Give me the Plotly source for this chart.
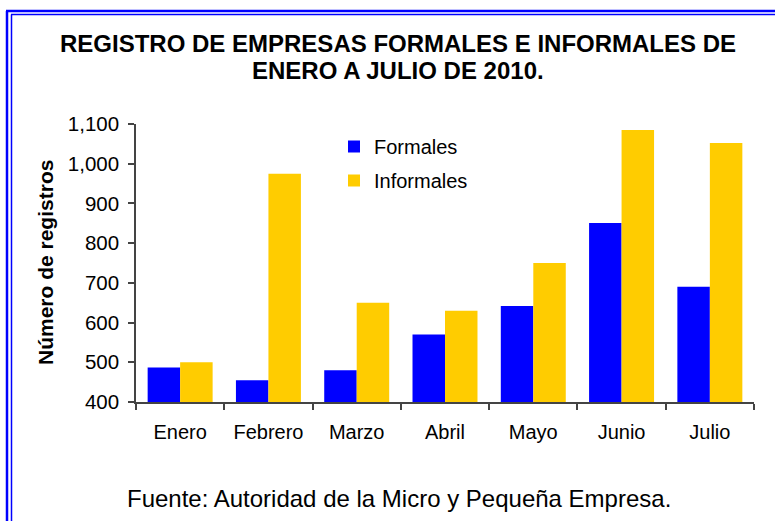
import plotly.graph_objects as go

months = ["Enero", "Febrero", "Marzo", "Abril", "Mayo", "Junio", "Julio"]
formales = [487, 455, 480, 570, 642, 851, 690]
informales = [500, 975, 650, 630, 750, 1085, 1052]
y_ticks = [400, 500, 600, 700, 800, 900, 1000, 1100]
y_tick_labels = ["400", "500", "600", "700", "800", "900", "1,000", "1,100"]

FONT = "Arial, Liberation Sans, sans-serif"
W, H = 775, 521
L, R, T, B = 136, 21, 124, 119
PW, PH = W - L - R, H - T - B


def px(x):
    return (x - L) / PW


def py(y):
    return (H - B - y) / PH


fig = go.Figure()
fig.add_trace(go.Bar(x=months, y=formales, name="Formales",
                     marker=dict(color="#0000FF", line=dict(width=0)),
                     legendgroup="f"))
fig.add_trace(go.Bar(x=months, y=informales, name="Informales",
                     marker=dict(color="#FFCC00", line=dict(width=0)),
                     legendgroup="i"))

fig.update_layout(
    width=W, height=H,
    margin=dict(l=L, r=R, t=T, b=B, pad=0),
    paper_bgcolor="white", plot_bgcolor="white",
    font=dict(family=FONT, size=20, color="black"),
    barmode="group", bargap=0.264, bargroupgap=0,
    showlegend=True,
    legend=dict(x=px(334), y=py(127), xanchor="left", yanchor="top",
                bgcolor="rgba(0,0,0,0)", font=dict(size=20),
                tracegroupgap=5, itemwidth=30),
    xaxis=dict(showline=True, linecolor="#444", linewidth=1.5,
               ticks="outside", ticklen=6, tickcolor="#444", tickwidth=1.5,
               tickson="boundaries", showgrid=False, ticklabelstandoff=11,
               tickfont=dict(size=20)),
    yaxis=dict(range=[400, 1100], tickvals=y_ticks, ticktext=y_tick_labels,
               showline=True, linecolor="#444", linewidth=1.5,
               ticks="outside", ticklen=6, tickcolor="#444", tickwidth=1.5,
               showgrid=False, zeroline=False, ticklabelstandoff=5,
               tickfont=dict(size=20.5)),
)

# double blue frame
shapes = [
    dict(type="line", xref="paper", yref="paper", x0=px(7), x1=px(7), y0=py(11), y1=py(530),
         line=dict(color="#0000FF", width=2.5)),
    dict(type="line", xref="paper", yref="paper", x0=px(11.5), x1=px(11.5), y0=py(14.5), y1=py(530),
         line=dict(color="#0000FF", width=1.5)),
    dict(type="line", xref="paper", yref="paper", x0=px(6), x1=px(790), y0=py(11), y1=py(11),
         line=dict(color="#0000FF", width=2.5)),
    dict(type="line", xref="paper", yref="paper", x0=px(11), x1=px(790), y0=py(14.5), y1=py(14.5),
         line=dict(color="#0000FF", width=1.5)),
]
fig.update_layout(shapes=shapes)

fig.add_annotation(text="<b>REGISTRO DE EMPRESAS FORMALES E INFORMALES DE</b>",
                   xref="paper", yref="paper", x=px(398), y=py(43),
                   xanchor="center", yanchor="middle", showarrow=False,
                   font=dict(size=24, family=FONT, color="black"))
fig.add_annotation(text="<b>ENERO A JULIO DE 2010.</b>",
                   xref="paper", yref="paper", x=px(398), y=py(70),
                   xanchor="center", yanchor="middle", showarrow=False,
                   font=dict(size=24, family=FONT, color="black"))
fig.add_annotation(text="<b>Número de registros</b>", textangle=-90,
                   xref="paper", yref="paper", x=px(45), y=py(263),
                   xanchor="center", yanchor="middle", showarrow=False,
                   font=dict(size=21, family=FONT, color="black"))
fig.add_annotation(text="Fuente: Autoridad de la Micro y Pequeña Empresa.",
                   xref="paper", yref="paper", x=px(399), y=py(498),
                   xanchor="center", yanchor="middle", showarrow=False,
                   font=dict(size=24, family=FONT, color="black"))

fig.write_html("out.html", config={"displayModeBar": False},
               post_script="document.body.style.margin='0';document.body.style.overflow='hidden';")
